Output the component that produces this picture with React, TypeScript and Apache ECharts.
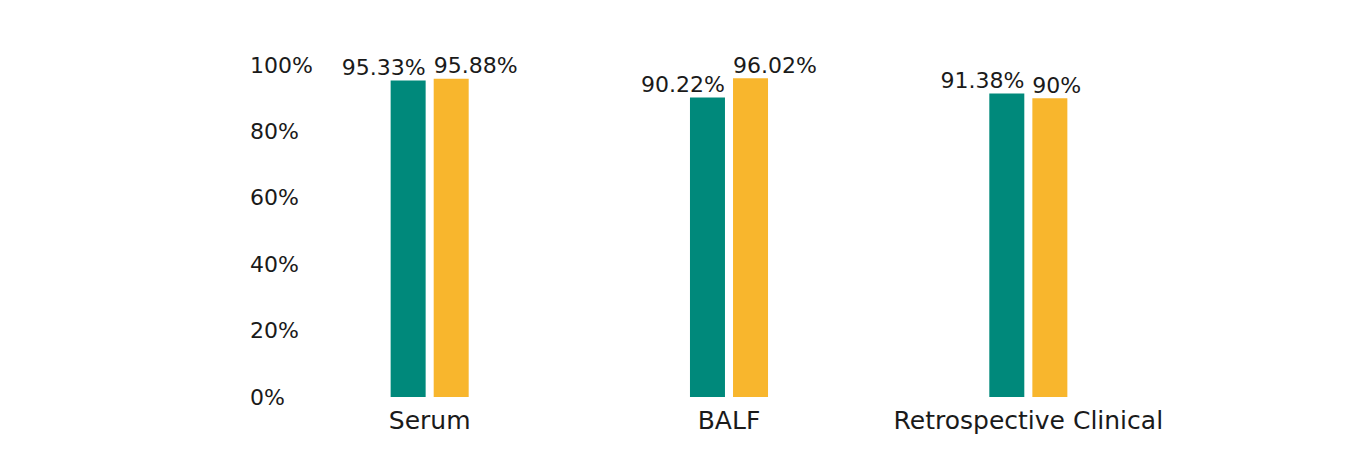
import { useEffect, useRef } from "react";
import * as echarts from "echarts";

const TEAL = "#00897B";
const GOLD = "#F8B62D";
const INK = "#1A1A1A";
const FONT = "'DejaVu Sans', 'Liberation Sans', sans-serif";

const categories = ["Serum", "BALF", "Retrospective Clinical"];
const tealValues = [95.33, 90.22, 91.38];
const goldValues = [95.88, 96.02, 90];

export default function App() {
  const ref = useRef<HTMLDivElement>(null);

  useEffect(() => {
    document.body.style.margin = "0";
    if (!ref.current) return;
    const chart = echarts.init(ref.current, undefined, { renderer: "svg" });

    const barLabel = (align: "left" | "right", dx: number) => ({
      show: true,
      position: "top" as const,
      distance: 2,
      align,
      offset: [dx, 0],
      color: INK,
      fontSize: 22,
      fontFamily: FONT,
      formatter: (p: { value: number }) => `${p.value}%`,
    });

    chart.setOption({
      animation: false,
      textStyle: { fontFamily: FONT },
      grid: { left: 280, right: 186, top: 65, bottom: 69 },
      xAxis: {
        type: "category",
        data: categories,
        axisLine: { show: false },
        axisTick: { show: false },
        axisLabel: { color: INK, fontSize: 25, fontFamily: FONT, margin: 11, interval: 0 },
        splitLine: { show: false },
      },
      yAxis: {
        type: "value",
        min: 0,
        max: 100,
        interval: 20,
        axisLine: { show: false },
        axisTick: { show: false },
        splitLine: { show: false },
        axisLabel: {
          color: INK,
          fontSize: 22,
          fontFamily: FONT,
          align: "left",
          margin: 30,
          formatter: "{value}%",
        },
      },
      series: [
        {
          name: "A",
          type: "bar",
          data: tealValues,
          barWidth: 35,
          barGap: "23%",
          itemStyle: { color: TEAL },
          label: barLabel("right", 17.5),
        },
        {
          name: "B",
          type: "bar",
          data: goldValues,
          barWidth: 35,
          itemStyle: { color: GOLD },
          label: barLabel("left", -17.5),
        },
      ],
    });

    return () => chart.dispose();
  }, []);

  return <div ref={ref} style={{ width: 1364, height: 466 }} />;
}
